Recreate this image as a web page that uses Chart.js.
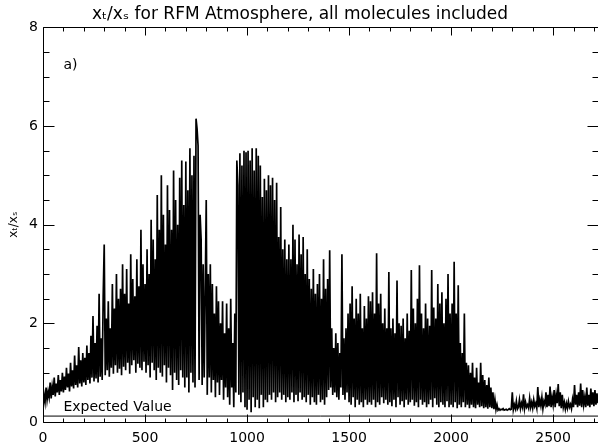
<!DOCTYPE html>
<html>
<head>
<meta charset="UTF-8">
<title>xt/xs for RFM Atmosphere</title>
<script src="https://cdn.jsdelivr.net/npm/chart.js"></script>
<style>
    body { margin: 0; padding: 0; background: #ffffff; }
    .chart-container { position: relative; width: 598px; height: 448px; }
</style>
</head>
<body>
<div class="chart-container">
    <canvas id="ratioChart" width="598" height="448"></canvas>
</div>
<script>
// wavenumber grid: first sample and spacing (cm-1)
const X_START = 0;
const X_STEP = 5;

// x_t/x_s, one value per sample (20 per 100 cm-1 row)
const ratio = [
    0.30, 0.55, 0.40, 0.70, 0.45, 0.62, 0.50, 0.80, 0.48, 0.72, 0.55, 0.90, 0.52, 0.78, 0.60, 0.95, 0.55, 0.85, 0.62, 1.00,
    0.60, 0.92, 0.65, 1.10, 0.70, 0.98, 0.62, 1.20, 0.72, 1.05, 0.68, 1.35, 0.75, 1.15, 0.70, 1.52, 0.78, 1.25, 0.72, 1.40,
    0.80, 1.30, 0.75, 1.55, 0.85, 1.40, 0.78, 1.75, 0.90, 2.15, 0.82, 1.60, 0.88, 1.95, 0.80, 2.60, 0.92, 1.70, 0.85, 2.55,
    3.60, 0.95, 2.10, 1.05, 2.45, 0.92, 1.90, 1.10, 2.80, 0.98, 2.30, 1.15, 3.00, 1.00, 2.50, 1.08, 2.70, 0.95, 3.20, 1.12,
    2.60, 1.05, 3.10, 1.20, 2.40, 0.98, 3.40, 1.15, 2.90, 1.25, 2.55, 1.00, 3.30, 1.18, 2.75, 1.10, 3.90, 1.05, 3.20, 1.22,
    2.80, 1.00, 3.50, 1.15, 3.00, 0.90, 4.10, 1.20, 3.70, 1.05, 3.30, 0.85, 4.60, 1.10, 3.90, 1.00, 5.00, 0.92, 4.20, 1.15,
    3.60, 0.80, 4.80, 1.10, 4.30, 0.95, 3.90, 0.65, 5.10, 1.00, 4.50, 0.85, 4.00, 0.75, 4.95, 1.05, 5.30, 0.90, 4.40, 0.70,
    5.28, 0.90, 4.70, 0.60, 5.55, 1.00, 5.00, 0.80, 5.40, 0.70, 6.15, 5.95, 5.60, 0.85, 4.20, 3.70, 0.75, 3.20, 0.90, 2.60,
    4.50, 0.55, 3.00, 0.90, 3.20, 0.60, 2.80, 0.85, 2.20, 0.50, 2.75, 0.80, 2.45, 0.55, 2.00, 0.85, 2.45, 0.45, 1.80, 0.70,
    2.40, 0.50, 1.90, 0.35, 2.50, 0.70, 1.60, 0.30, 2.20, 0.60, 5.30, 4.80, 0.55, 5.45, 0.40, 5.20, 0.60, 5.50, 0.30, 5.47,
    0.25, 5.50, 0.45, 5.30, 0.20, 5.55, 0.50, 5.10, 0.30, 5.55, 0.45, 5.40, 0.28, 5.20, 0.55, 4.56, 0.30, 4.93, 0.45, 4.70,
    0.40, 5.00, 0.55, 4.80, 0.45, 4.95, 0.60, 4.50, 0.40, 4.85, 0.50, 3.75, 0.60, 4.36, 0.45, 3.50, 0.55, 3.70, 0.40, 3.30,
    0.50, 3.60, 0.45, 3.30, 0.60, 4.00, 0.40, 3.70, 0.55, 3.20, 0.42, 3.80, 0.60, 3.40, 0.45, 3.75, 0.50, 3.00, 0.40, 3.50,
    0.55, 2.90, 0.35, 2.70, 0.50, 3.10, 0.40, 2.60, 0.35, 2.80, 0.55, 3.00, 0.40, 2.50, 0.45, 3.30, 0.35, 2.70, 0.50, 2.90,
    0.65, 3.48, 0.70, 1.90, 0.55, 1.50, 0.60, 1.80, 0.50, 1.60, 0.45, 1.40, 0.70, 3.40, 0.55, 1.70, 0.45, 1.90, 0.60, 2.20,
    0.40, 2.40, 0.35, 2.75, 0.50, 2.10, 0.30, 2.50, 0.45, 2.20, 0.35, 2.60, 0.40, 1.90, 0.30, 2.35, 0.45, 2.10, 0.35, 2.55,
    0.40, 2.45, 0.35, 2.63, 0.45, 2.20, 0.30, 3.42, 0.40, 2.40, 0.35, 2.60, 0.50, 2.00, 0.38, 2.30, 0.45, 1.90, 0.35, 3.04,
    0.40, 1.90, 0.32, 2.10, 0.45, 1.80, 0.30, 2.87, 0.50, 2.00, 0.35, 1.95, 0.42, 2.10, 0.30, 1.70, 0.45, 2.20, 0.35, 1.85,
    0.40, 3.08, 0.45, 2.30, 0.33, 2.00, 0.40, 2.50, 0.30, 3.18, 0.45, 2.20, 0.35, 1.90, 0.40, 2.40, 0.30, 2.10, 0.36, 1.95,
    0.45, 3.08, 0.30, 2.32, 0.48, 2.10, 0.35, 2.80, 0.30, 2.40, 0.40, 2.63, 0.35, 2.00, 0.30, 2.50, 0.42, 3.00, 0.30, 2.20,
    0.35, 2.40, 0.30, 3.25, 0.40, 2.20, 0.28, 2.77, 0.35, 1.60, 0.30, 1.40, 0.40, 2.20, 0.30, 1.20, 0.35, 1.15, 0.28, 1.00,
    0.35, 1.20, 0.30, 0.90, 0.28, 1.10, 0.35, 0.80, 0.30, 1.20, 0.32, 0.95, 0.28, 0.85, 0.30, 0.75, 0.27, 0.90, 0.30, 0.70,
    0.28, 0.60, 0.26, 0.45, 0.25, 0.35, 0.24, 0.27, 0.24, 0.26, 0.25, 0.27, 0.24, 0.25, 0.26, 0.24, 0.25, 0.27, 0.25, 0.26,
    0.60, 0.25, 0.35, 0.27, 0.42, 0.26, 0.30, 0.45, 0.27, 0.38, 0.30, 0.56, 0.27, 0.40, 0.30, 0.35, 0.28, 0.48, 0.30, 0.40,
    0.28, 0.45, 0.32, 0.38, 0.28, 0.71, 0.30, 0.45, 0.33, 0.50, 0.27, 0.42, 0.35, 0.60, 0.30, 0.55, 0.32, 0.72, 0.30, 0.50,
    0.35, 0.65, 0.30, 0.55, 0.38, 0.77, 0.32, 0.60, 0.28, 0.55, 0.30, 0.40, 0.26, 0.38, 0.28, 0.42, 0.30, 0.36, 0.27, 0.45,
    0.30, 0.75, 0.35, 0.55, 0.30, 0.60, 0.33, 0.78, 0.30, 0.65, 0.35, 0.50, 0.30, 0.70, 0.33, 0.55, 0.30, 0.68, 0.35, 0.60,
    0.32, 0.65, 0.35, 0.58, 0.38
];

const expectedValue = 0.12;

const xTicks = [0, 500, 1000, 1500, 2000, 2500];
const yTicks = [0, 2, 4, 6, 8];
const X_MAX = 2720;

const wavenumber = ratio.map((_, i) => X_START + i * X_STEP);

// IDL style box: inward ticks on all four sides plus the two labels
const idlFrame = {
    id: 'idlFrame',
    afterDraw(chart) {
        const { ctx, chartArea: a, scales: { x, y } } = chart;
        const L = Math.round(a.left) + 0.5, R = Math.round(a.right) + 0.5;
        const T = Math.round(a.top) + 0.5, B = Math.round(a.bottom) + 0.5;
        ctx.save();
        ctx.strokeStyle = '#000';
        ctx.lineWidth = 1;
        ctx.beginPath();
        ctx.rect(L, T, R - L, B - T);
        for (let v = 0; v <= X_MAX; v += 100) {
            const px = Math.round(x.getPixelForValue(v)) + 0.5;
            const len = xTicks.includes(v) ? 8 : 4;
            ctx.moveTo(px, B); ctx.lineTo(px, B - len);
            ctx.moveTo(px, T); ctx.lineTo(px, T + len);
        }
        for (let v = 0; v <= 8; v += 0.5) {
            const py = Math.round(y.getPixelForValue(v)) + 0.5;
            const len = yTicks.includes(v) ? 11 : 6;
            ctx.moveTo(L, py); ctx.lineTo(L + len, py);
            ctx.moveTo(R, py); ctx.lineTo(R - len, py);
        }
        ctx.stroke();

        ctx.fillStyle = '#000';
        ctx.font = '14px "DejaVu Sans"';
        ctx.textAlign = 'left';
        ctx.textBaseline = 'alphabetic';
        ctx.fillText('Expected Value', x.getPixelForValue(100), y.getPixelForValue(expectedValue) - 5);
        ctx.fillText('a)', x.getPixelForValue(100), y.getPixelForValue(7.15));
        ctx.restore();
    }
};

new Chart(document.getElementById('ratioChart'), {
    type: 'line',
    data: {
        datasets: [{
            data: ratio.map((v, i) => ({ x: wavenumber[i], y: v })),
            borderColor: '#000',
            borderWidth: 1.7,
            pointRadius: 0,
            tension: 0
        }, {
            data: [{ x: 0, y: expectedValue }, { x: X_MAX, y: expectedValue }],
            borderColor: '#000',
            borderWidth: 1,
            pointRadius: 0
        }]
    },
    options: {
        responsive: false,
        animation: false,
        layout: { padding: { left: 0, right: -2, top: 0, bottom: 0 } },
        plugins: {
            legend: { display: false },
            tooltip: { enabled: false },
            title: {
                display: true,
                text: 'xₜ/xₛ for RFM Atmosphere, all molecules included',
                color: '#000',
                font: { family: 'DejaVu Sans', size: 17, weight: 'normal' },
                padding: { top: 4, bottom: 3 }
            }
        },
        scales: {
            x: {
                type: 'linear',
                min: 0,
                max: X_MAX,
                afterBuildTicks: s => { s.ticks = xTicks.map(v => ({ value: v })); },
                afterFit: s => { s.height = 26; },
                grid: { display: false, drawTicks: false },
                border: { display: false },
                ticks: {
                    color: '#000', padding: 8, maxRotation: 0,
                    font: { family: 'DejaVu Sans', size: 14 },
                    callback: v => String(v)
                }
            },
            y: {
                min: 0,
                max: 8,
                afterBuildTicks: s => { s.ticks = yTicks.map(v => ({ value: v })); },
                afterFit: s => { s.width = 43; },
                grid: { display: false, drawTicks: false },
                border: { display: false },
                ticks: { color: '#000', padding: 5, font: { family: 'DejaVu Sans', size: 14 } },
                title: {
                    display: true,
                    text: 'xₜ/xₛ',
                    color: '#000',
                    font: { family: 'DejaVu Sans', size: 12 },
                    padding: { top: 7, bottom: 0 }
                }
            }
        }
    },
    plugins: [idlFrame]
});
</script>
</body>
</html>
